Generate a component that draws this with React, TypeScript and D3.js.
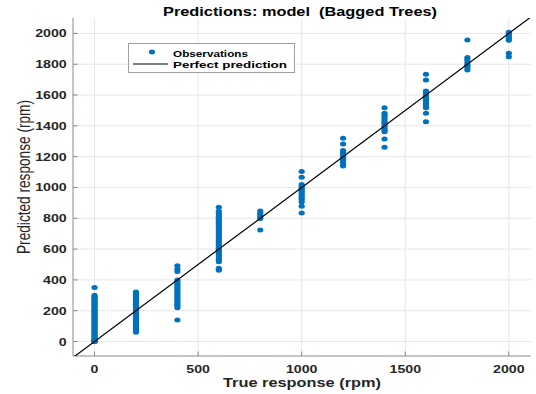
import React from "react";
import * as d3 from "d3";

const trueLevels = [0, 200, 400, 600, 800, 1000, 1200, 1400, 1600, 1800, 2000];

const pred0 = [0, 0, 0, 3, 6, 10, 15, 22, 30, 38, 45, 52, 60, 68, 75, 82, 90, 98, 105, 112, 120, 128, 135, 142, 150, 158, 165, 172, 180, 188, 195, 202, 210, 218, 225, 232, 240, 248, 255, 262, 270, 278, 285, 292, 300, 350];
const pred200 = [60, 70, 80, 90, 100, 110, 120, 130, 140, 150, 160, 170, 180, 190, 200, 210, 220, 230, 240, 250, 260, 270, 280, 290, 300, 310, 322];
const pred400 = [140, 220, 230, 240, 250, 262, 275, 288, 300, 312, 325, 338, 350, 362, 375, 388, 400, 455, 470, 492];
const pred600 = [462, 475, 518, 530, 542, 555, 568, 580, 592, 605, 618, 630, 642, 655, 668, 680, 692, 705, 718, 730, 742, 755, 768, 780, 792, 805, 815, 830, 845, 872];
const pred800 = [724, 798, 810, 822, 835, 848];
const pred1000 = [835, 878, 905, 920, 932, 945, 958, 970, 982, 995, 1008, 1020, 1066, 1103];
const pred1200 = [1140, 1152, 1165, 1178, 1190, 1202, 1215, 1228, 1240, 1282, 1319];
const pred1400 = [1261, 1315, 1362, 1370, 1382, 1395, 1408, 1420, 1432, 1445, 1458, 1470, 1482, 1518];
const pred1600 = [1427, 1482, 1518, 1530, 1542, 1554, 1566, 1578, 1590, 1602, 1614, 1626, 1698, 1735];
const pred1800 = [1763, 1775, 1788, 1800, 1815, 1830, 1843, 1958];
const pred2000 = [1848, 1871, 1955, 1968, 1982, 1995, 2008];

const predictions = [pred0, pred200, pred400, pred600, pred800, pred1000, pred1200, pred1400, pred1600, pred1800, pred2000];

const xTicks = [0, 500, 1000, 1500, 2000];
const yTicks = [0, 200, 400, 600, 800, 1000, 1200, 1400, 1600, 1800, 2000];

const titleText = "Predictions: model  (Bagged Trees)";
const xLabelText = "True response (rpm)";
const yLabelText = "Predicted response (rpm)";
const legendLabels = ["Observations", "Perfect prediction"];

const W = 536, H = 394;
const L = 73, R = 531, T = 18, B = 356;
const FONT = "'Liberation Sans', Arial, Helvetica, sans-serif";
const BLUE = "#0072BD";
const AXIS = "#8a8a8a";
const GRID = "#e6e6e6";
const TXT = "#262626";
const SX = 1.29;

export default function App() {
  const x = d3.scaleLinear().domain([-104, 2107]).range([L, R]);
  const y = d3.scaleLinear().domain([-94, 2100]).range([B, T]);

  const points: { t: number; p: number }[] = [];
  trueLevels.forEach((t, i) => predictions[i].forEach((p) => points.push({ t, p })));

  const lineGen = d3.line<number>().x((d) => x(d)).y((d) => y(d));
  const diag = lineGen([-300, 2400]) || "";

  return (
    <svg width={W} height={H} style={{ position: "absolute", left: 0, top: 0, background: "#fff" }} fontFamily={FONT}>
      <defs>
        <clipPath id="plotclip">
          <rect x={L} y={T} width={R - L} height={B - T} />
        </clipPath>
      </defs>
      <rect x={0} y={0} width={W} height={H} fill="#fff" />
      {xTicks.map((v) => (
        <line key={"gx" + v} x1={x(v)} x2={x(v)} y1={T} y2={B} stroke={GRID} strokeWidth={1} />
      ))}
      {yTicks.map((v) => (
        <line key={"gy" + v} x1={L} x2={R} y1={y(v)} y2={y(v)} stroke={GRID} strokeWidth={1} />
      ))}
      <line x1={L} x2={L} y1={T} y2={B} stroke={AXIS} strokeWidth={1} />
      <line x1={L} x2={R} y1={B} y2={B} stroke={AXIS} strokeWidth={1} />
      {xTicks.map((v) => (
        <line key={"tx" + v} x1={x(v)} x2={x(v)} y1={B} y2={B - 4.5} stroke={AXIS} strokeWidth={1} />
      ))}
      {yTicks.map((v) => (
        <line key={"ty" + v} x1={L} x2={L + 4.5} y1={y(v)} y2={y(v)} stroke={AXIS} strokeWidth={1} />
      ))}
      <g clipPath="url(#plotclip)">
        {points.map((d, i) => (
          <ellipse key={i} cx={x(d.t)} cy={y(d.p)} rx={3.1} ry={2.5} fill={BLUE} />
        ))}
        <path d={diag} stroke="#000" strokeWidth={1.2} fill="none" />
      </g>
      {xTicks.map((v) => (
        <text key={"lx" + v} transform={`translate(${x(v)},${373}) scale(${SX},1)`} textAnchor="middle"
          fontSize={11} fontWeight="bold" fill={TXT}>{String(v)}</text>
      ))}
      {yTicks.map((v) => (
        <text key={"ly" + v} transform={`translate(66.7,${y(v) + 4}) scale(${SX},1)`} textAnchor="end"
          fontSize={11} fontWeight="bold" fill={TXT}>{String(v)}</text>
      ))}
      <text x={163} y={15.5} fontSize={12} fontWeight="bold" fill="#000" textLength={274} lengthAdjust="spacingAndGlyphs" style={{ whiteSpace: "pre" }} xmlSpace="preserve">{titleText}</text>
      <text x={223} y={387} fontSize={12} fontWeight="bold" fill={TXT} textLength={158} lengthAdjust="spacingAndGlyphs">{xLabelText}</text>
      <text transform={`translate(29.5,177) scale(${SX},1) rotate(-90)`} textAnchor="middle" fontSize={13.65} fill={TXT}>{yLabelText}</text>
      <rect x={128.5} y={43.5} width={166} height={29} fill="#fff" stroke="#a0a0a0" strokeWidth={1} />
      <ellipse cx={152} cy={52} rx={3.1} ry={2.5} fill={BLUE} />
      <text x={173} y={56.5} fontSize={9.8} fontWeight="bold" fill="#000" textLength={75} lengthAdjust="spacingAndGlyphs">{legendLabels[0]}</text>
      <line x1={133} x2={168} y1={64} y2={64} stroke="#000" strokeWidth={1.2} />
      <text x={173} y={67.8} fontSize={9.8} fontWeight="bold" fill="#000" textLength={114} lengthAdjust="spacingAndGlyphs">{legendLabels[1]}</text>
    </svg>
  );
}
